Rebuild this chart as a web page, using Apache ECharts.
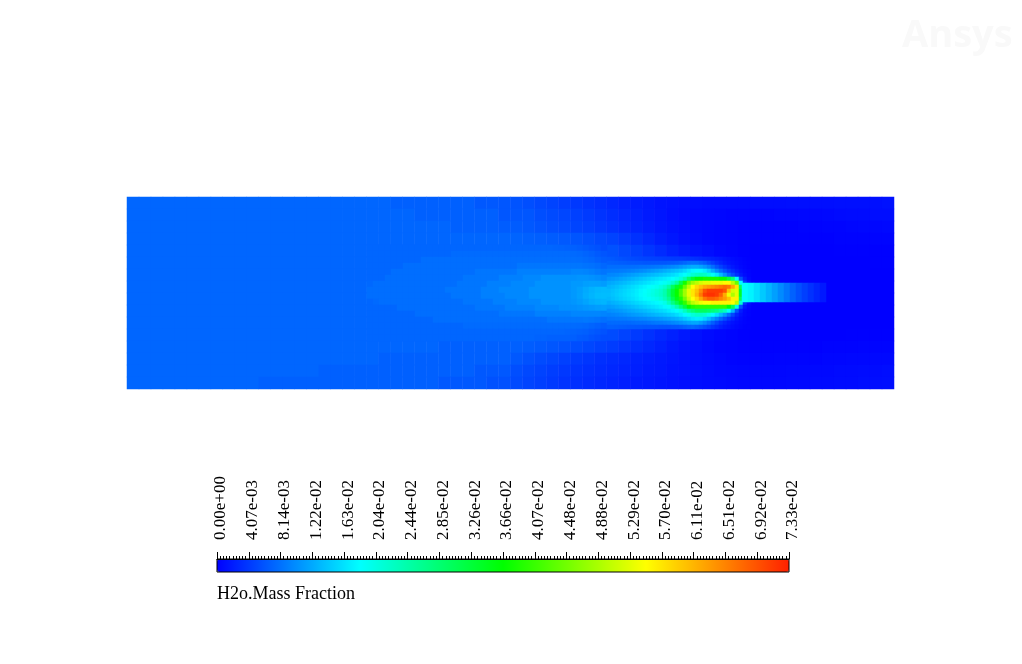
<!DOCTYPE html>
<html>
<head>
<meta charset="utf-8">
<title>H2o.Mass Fraction</title>
<script src="https://cdn.jsdelivr.net/npm/echarts@6/dist/echarts.min.js"></script>
<style>
  html, body { margin: 0; padding: 0; background: #fff; }
  #chart { width: 1022px; height: 664px; }
</style>
</head>
<body>
<div id="chart"></div>
<script>
// all field values are mass fraction x 1e-3

// colour bar
var tickLabels = ['0.00e+00','4.07e-03','8.14e-03','1.22e-02','1.63e-02','2.04e-02','2.44e-02','2.85e-02','3.26e-02','3.66e-02',
                  '4.07e-02','4.48e-02','4.88e-02','5.29e-02','5.70e-02','6.11e-02','6.51e-02','6.92e-02','7.33e-02'];
var fieldMax = 73.3;

// whole domain, 64 x 16 cells
var baseRows = [
[7.3,7.3,7.3,7.3,7.3,7.3,7.3,7.3,7.3,7.3,7.3,7.3,7.3,7.3,7.3,7.3,7.3,7.3,7.3,7.3,7.3,7.3,6.9,6.9,6.9,6.9,6.9,6.9,6.9,6.3,6.3,6.2,6.0,5.6,5.2,4.8,4.4,4.0,3.6,3.2,2.8,2.4,2.0,1.7,1.4,1.2,1.0,0.9,0.8,0.8,0.8,0.8,0.9,0.9,0.9,1.0,1.0,1.0,1.0,1.1,1.1,1.1,1.1,1.2],
[7.3,7.3,7.3,7.3,7.3,7.3,7.3,7.3,7.3,7.3,7.3,7.3,7.3,7.3,7.3,7.3,7.3,7.3,7.3,7.3,7.3,7.3,7.3,7.3,6.9,6.9,6.9,6.9,6.9,6.9,6.9,6.2,6.2,6.2,5.6,5.3,5.0,4.6,4.2,3.7,3.2,2.8,2.4,1.9,1.5,1.1,0.8,0.6,0.5,0.4,0.3,0.3,0.3,0.3,0.4,0.4,0.5,0.5,0.6,0.7,0.8,0.8,0.9,0.9],
[7.3,7.3,7.3,7.3,7.3,7.3,7.3,7.3,7.3,7.3,7.3,7.3,7.3,7.3,7.3,7.3,7.3,7.3,7.3,7.3,7.3,7.3,7.3,7.3,7.3,7.3,7.3,6.9,6.9,6.9,6.9,6.7,6.6,6.3,6.0,5.6,5.3,4.9,4.5,4.0,3.6,3.1,2.6,2.1,1.6,1.2,0.9,0.6,0.4,0.3,0.2,0.1,0.1,0.1,0.1,0.1,0.2,0.2,0.3,0.3,0.4,0.5,0.5,0.6],
[7.3,7.3,7.3,7.3,7.3,7.3,7.3,7.3,7.3,7.3,7.3,7.3,7.3,7.3,7.3,7.3,7.3,7.3,7.3,7.3,7.3,7.3,7.3,7.3,7.3,7.3,7.3,7.3,7.3,7.3,7.3,7.3,7.2,7.0,6.8,6.6,6.4,6.1,5.7,5.2,4.8,4.2,3.5,2.8,2.1,1.6,1.1,0.7,0.4,0.3,0.2,0.1,0.1,0.1,0.1,0.1,0.1,0.1,0.1,0.2,0.2,0.2,0.3,0.3],
[7.3,7.3,7.3,7.3,7.3,7.3,7.3,7.3,7.3,7.3,7.3,7.3,7.3,7.3,7.3,7.3,7.3,7.3,7.3,7.3,7.3,7.3,7.3,7.3,7.3,7.3,7.3,7.3,7.5,7.6,7.7,7.7,7.7,7.6,7.4,7.0,6.6,6.2,5.9,5.8,5.8,5.2,4.5,3.8,3.1,2.4,1.8,1.3,0.9,0.5,0.3,0.1,0.0,0.0,0.0,0.0,0.0,0.0,0.0,0.1,0.1,0.1,0.1,0.1],
[7.3,7.3,7.3,7.3,7.3,7.3,7.3,7.3,7.3,7.3,7.3,7.3,7.3,7.3,7.3,7.3,7.3,7.3,7.3,7.3,7.3,7.3,7.3,7.6,7.8,7.9,8.0,8.0,8.2,8.4,8.6,8.7,8.6,8.4,8.2,7.8,7.4,7.0,6.7,6.4,6.0,6.0,5.8,5.8,5.6,5.8,6.0,4.0,2.0,1.0,0.3,0.1,0.0,0.0,0.0,0.0,0.0,0.0,0.0,0.0,0.0,0.0,0.1,0.1],
[7.3,7.3,7.3,7.3,7.3,7.3,7.3,7.3,7.3,7.3,7.3,7.3,7.3,7.3,7.3,7.3,7.3,7.3,7.3,7.3,7.3,7.5,7.8,8.0,8.1,8.2,8.3,8.6,8.8,8.9,9.0,9.1,9.1,9.1,9.2,9.3,9.3,9.2,9.1,9.0,9.0,10.0,11.0,13.0,14.0,18.0,19.0,15.0,8.0,2.0,0.5,0.2,0.0,0.0,0.0,0.0,0.0,0.0,0.0,0.0,0.0,0.0,0.0,0.0],
[7.3,7.3,7.3,7.3,7.3,7.3,7.3,7.3,7.3,7.3,7.3,7.3,7.3,7.3,7.3,7.3,7.3,7.3,7.3,7.3,7.8,7.9,8.0,8.2,8.4,8.6,8.8,8.9,9.0,9.0,9.1,9.1,9.3,9.6,9.9,10.2,10.5,10.9,11.2,11.6,12.0,14.0,15.0,18.0,30.0,50.0,62.0,62.0,50.0,20.0,3.0,1.0,0.0,0.0,0.0,0.0,0.0,0.0,0.0,0.0,0.0,0.0,0.0,0.0],
[7.3,7.3,7.3,7.3,7.3,7.3,7.3,7.3,7.3,7.3,7.3,7.3,7.3,7.3,7.3,7.3,7.3,7.3,7.3,7.3,7.8,7.9,8.0,8.2,8.4,8.6,8.8,8.9,9.0,9.0,9.1,9.1,9.3,9.6,9.9,10.2,10.5,10.9,11.2,11.6,12.0,14.0,15.0,18.0,30.0,50.0,62.0,62.0,50.0,20.0,3.0,1.0,0.0,0.0,0.0,0.0,0.0,0.0,0.0,0.0,0.0,0.0,0.0,0.0],
[7.3,7.3,7.3,7.3,7.3,7.3,7.3,7.3,7.3,7.3,7.3,7.3,7.3,7.3,7.3,7.3,7.3,7.3,7.3,7.3,7.3,7.3,7.6,7.8,8.0,8.1,8.2,8.4,8.6,8.7,8.8,8.9,8.9,9.0,9.1,9.1,9.1,9.1,9.0,8.9,9.0,10.0,11.0,13.0,14.0,18.0,19.0,15.0,8.0,2.0,0.5,0.2,0.0,0.0,0.0,0.0,0.0,0.0,0.0,0.0,0.0,0.0,0.0,0.0],
[7.3,7.3,7.3,7.3,7.3,7.3,7.3,7.3,7.3,7.3,7.3,7.3,7.3,7.3,7.3,7.3,7.3,7.3,7.3,7.3,7.3,7.3,7.3,7.3,7.3,7.3,7.5,7.6,7.8,7.9,8.0,8.0,7.9,7.6,7.3,7.0,6.8,6.5,6.2,5.8,6.0,6.0,5.8,5.8,5.6,5.8,6.0,4.0,2.0,1.0,0.3,0.1,0.0,0.0,0.0,0.0,0.0,0.0,0.0,0.0,0.0,0.0,0.0,0.0],
[7.3,7.3,7.3,7.3,7.3,7.3,7.3,7.3,7.3,7.3,7.3,7.3,7.3,7.3,7.3,7.3,7.3,7.3,7.3,7.3,7.3,7.3,7.3,7.3,7.3,7.3,7.3,7.3,7.3,7.3,7.3,7.2,7.0,6.9,6.6,6.3,5.9,5.7,5.6,5.5,5.4,4.8,4.2,3.5,2.9,2.3,1.7,1.2,0.8,0.5,0.3,0.1,0.0,0.0,0.0,0.0,0.0,0.0,0.0,0.0,0.1,0.1,0.1,0.1],
[7.3,7.3,7.3,7.3,7.3,7.3,7.3,7.3,7.3,7.3,7.3,7.3,7.3,7.3,7.3,7.3,7.3,7.3,7.3,7.3,7.3,7.3,7.3,7.3,7.3,7.3,6.9,6.9,6.9,6.9,6.9,6.9,6.9,6.7,6.5,6.2,5.9,5.5,5.1,4.7,4.3,3.8,3.3,2.8,2.3,1.7,1.3,0.9,0.6,0.3,0.2,0.1,0.1,0.1,0.1,0.1,0.1,0.1,0.2,0.2,0.2,0.3,0.3,0.3],
[7.3,7.3,7.3,7.3,7.3,7.3,7.3,7.3,7.3,7.3,7.3,7.3,7.3,7.3,7.3,7.3,7.3,7.3,7.3,7.3,7.3,6.9,6.9,6.9,6.9,6.9,6.9,6.9,6.9,6.9,6.9,6.9,6.3,5.8,5.4,5.0,4.6,4.2,3.8,3.4,3.1,2.8,2.4,2.1,1.8,1.5,1.2,0.9,0.7,0.5,0.3,0.2,0.2,0.2,0.3,0.3,0.3,0.3,0.4,0.4,0.5,0.5,0.6,0.6],
[7.3,7.3,7.3,7.3,7.3,7.3,7.3,7.3,7.3,7.3,7.3,7.3,7.3,7.3,7.3,7.3,6.9,6.9,6.9,6.9,6.9,6.9,6.9,6.9,6.9,6.9,6.9,6.9,6.9,6.3,6.3,6.3,5.6,5.2,4.8,4.4,4.0,3.7,3.4,3.1,2.8,2.5,2.2,1.9,1.7,1.4,1.2,1.0,0.8,0.6,0.5,0.4,0.4,0.4,0.4,0.5,0.5,0.6,0.6,0.7,0.7,0.8,0.8,0.9],
[7.3,7.3,7.3,7.3,7.3,7.3,7.3,7.3,7.3,7.3,7.3,6.9,6.9,6.9,6.9,6.9,6.9,6.9,6.9,6.9,6.9,6.9,6.9,6.9,6.9,6.9,6.3,6.3,6.3,6.3,5.8,5.8,5.3,4.9,4.5,4.1,3.7,3.4,3.1,2.8,2.5,2.2,1.9,1.7,1.5,1.3,1.1,0.9,0.8,0.7,0.6,0.5,0.5,0.5,0.5,0.6,0.6,0.7,0.7,0.8,0.8,0.9,0.9,1.0]
];

// middle of the domain, 40 x 16 finer cells over x 367-607, y 245-341
var wakeRows = [
[7.3,7.3,7.3,7.3,7.3,7.3,7.3,7.3,7.3,7.3,7.3,7.3,7.3,7.3,7.3,7.3,7.3,7.3,7.3,7.3,7.3,7.3,7.3,7.3,7.3,7.3,7.3,7.3,7.3,7.3,7.3,7.2,7.1,7.0,6.9,6.7,6.4,6.1,5.8,5.4],
[7.3,7.3,7.3,7.3,7.3,7.3,7.3,7.3,7.3,7.3,7.3,7.3,7.3,7.3,7.7,7.7,7.7,7.7,7.7,7.7,7.7,7.7,7.7,7.7,7.7,7.7,7.7,7.7,7.7,7.7,7.7,7.7,7.7,7.7,7.6,7.5,7.2,6.9,6.5,6.1],
[7.3,7.3,7.3,7.3,7.3,7.3,7.3,7.3,7.3,7.9,7.9,7.9,7.9,7.9,7.9,7.9,7.9,7.9,7.9,7.9,7.9,7.9,7.9,7.9,7.9,7.9,7.9,7.9,7.9,7.9,7.9,7.9,7.9,7.9,7.9,7.8,7.6,7.4,7.0,6.6],
[7.3,7.3,7.3,7.3,7.3,7.3,7.9,7.9,7.9,7.9,7.9,7.9,7.9,7.9,7.9,7.9,7.9,7.9,7.9,7.9,7.9,7.9,7.9,7.9,7.9,8.5,8.5,8.5,8.5,8.5,8.5,8.5,8.5,8.5,8.5,8.5,8.3,8.1,7.8,7.4],
[7.3,7.3,7.3,7.3,7.9,7.9,7.9,7.9,7.9,7.9,7.9,7.9,7.9,7.9,7.9,7.9,7.9,7.9,8.5,8.5,8.5,8.5,8.5,8.5,8.5,9.2,9.2,9.2,9.2,9.2,9.2,9.2,9.2,9.2,9.6,9.6,9.5,9.2,8.8,8.4],
[7.3,7.3,7.3,7.9,7.9,7.9,7.9,7.9,7.9,7.9,7.9,7.9,7.9,7.9,7.9,7.9,8.5,8.5,8.5,8.5,8.5,8.5,9.2,9.2,9.2,9.2,9.8,9.8,9.8,10.4,10.4,10.4,10.4,10.4,10.4,10.6,10.6,10.4,10.1,9.8],
[7.5,7.9,7.9,7.9,7.9,7.9,7.9,7.9,7.9,7.9,7.9,7.9,7.9,7.9,7.9,8.5,8.5,8.5,8.5,8.5,9.2,9.2,9.2,9.2,9.8,9.8,9.8,9.8,10.5,10.5,10.5,10.5,10.5,10.5,11.0,11.0,11.4,11.6,11.5,11.2],
[7.9,7.9,7.9,7.9,7.9,7.9,7.9,7.9,7.9,7.9,7.9,7.9,7.9,8.5,8.5,8.5,8.5,8.5,8.5,9.2,9.2,9.2,9.8,9.8,9.8,9.8,9.8,10.5,10.5,10.5,10.5,10.5,10.5,10.5,11.0,11.5,12.2,12.8,13.2,13.4],
[7.9,7.9,7.9,7.9,7.9,7.9,7.9,7.9,7.9,7.9,7.9,7.9,7.9,7.9,8.5,8.5,8.5,8.5,8.5,9.2,9.2,9.2,9.2,9.8,9.8,9.8,9.8,10.5,10.5,10.5,10.5,10.5,10.5,10.5,11.0,11.6,12.4,13.0,13.5,13.6],
[7.3,7.6,7.9,7.9,7.9,7.9,7.9,7.9,7.9,7.9,7.9,7.9,7.9,7.9,7.9,7.9,8.5,8.5,8.5,8.5,8.5,9.2,9.2,9.2,9.2,9.8,9.8,9.8,9.8,10.5,10.5,10.5,10.5,10.5,10.8,11.2,11.8,12.4,12.8,13.0],
[7.3,7.3,7.3,7.3,7.3,7.9,7.9,7.9,7.9,7.9,7.9,7.9,7.9,7.9,7.9,7.9,7.9,7.9,8.5,8.5,8.5,8.5,8.5,9.2,9.2,9.2,9.2,9.2,9.8,9.8,9.8,9.8,10.3,10.3,10.3,10.5,10.8,11.0,11.3,11.4],
[7.3,7.3,7.3,7.3,7.3,7.3,7.3,7.3,7.9,7.9,7.9,7.9,7.9,7.9,7.9,7.9,7.9,7.9,7.9,7.9,7.9,7.9,8.5,8.5,8.5,8.5,8.5,8.5,9.2,9.2,9.2,9.2,9.2,9.2,9.6,9.6,9.6,9.6,9.6,9.5],
[7.3,7.3,7.3,7.3,7.3,7.3,7.3,7.3,7.3,7.3,7.3,7.9,7.9,7.9,7.9,7.9,7.9,7.9,7.9,7.9,7.9,7.9,7.9,7.9,7.9,7.9,7.9,7.9,7.9,7.9,8.5,8.5,8.5,8.5,8.5,8.5,8.6,8.5,8.3,8.0],
[7.3,7.3,7.3,7.3,7.3,7.3,7.3,7.3,7.3,7.3,7.3,7.3,7.3,7.3,7.3,7.3,7.7,7.7,7.7,7.7,7.7,7.7,7.7,7.7,7.7,7.7,7.7,7.7,7.7,7.7,7.7,7.7,7.7,7.7,7.7,7.6,7.5,7.2,6.9,6.6],
[7.3,7.3,7.3,7.3,7.3,7.3,7.3,7.3,7.3,7.3,7.3,7.3,7.3,7.3,7.3,7.3,7.3,7.3,7.3,7.3,7.3,7.3,7.3,7.3,7.3,7.3,7.3,7.3,7.3,7.3,7.3,7.3,7.3,7.2,7.1,7.0,6.8,6.5,6.2,5.9],
[7.3,7.3,7.3,7.3,7.3,7.3,7.3,7.3,7.3,7.3,7.3,7.3,7.3,7.3,7.3,7.3,7.3,7.3,7.3,7.3,7.3,7.3,7.3,7.3,7.3,7.3,7.3,7.3,7.1,7.1,6.9,6.9,6.9,6.9,6.8,6.5,6.3,6.0,5.7,5.4]
];

// plume, 36 x 18 finer cells over x 607-751, y 257-329
var plumeRows = [
[6.5,6.3,6.1,5.9,5.7,5.5,5.3,5.2,5.0,4.9,4.8,4.7,4.6,4.5,4.4,4.3,4.2,4.1,4.0,3.9,3.7,3.5,3.3,3.0,2.8,2.6,2.3,2.0,1.7,1.4,1.1,0.8,0.6,0.4,0.2,0.1],
[7,6.9,6.8,6.7,6.6,6.5,6.4,6.3,6.3,6.2,6.2,6.2,6.2,6.2,6.2,6.3,6.4,6.6,6.9,7.3,7.8,8,7.8,7.2,6.5,5.4,4.4,3.4,2.6,1.9,1.4,1.0,0.7,0.4,0.2,0.1],
[7.8,7.8,7.8,7.8,7.8,7.8,7.9,8,8.1,8.2,8.3,8.4,8.6,8.8,9.1,9.4,9.8,10.2,10.8,11.4,12,12.4,12.4,11.8,10.8,9.4,7.8,6,4.6,3.4,2.4,1.6,1,0.6,0.3,0.1],
[8.6,8.7,8.8,8.9,9,9.2,9.4,9.7,10,10.3,10.7,11.1,11.5,11.9,12.4,12.9,13.5,14,14.6,15.6,16.8,18,18.5,18.2,17,15,12.5,10,7.8,5.8,4.2,2.9,1.8,1,0.5,0.2],
[9.6,9.8,10,10.3,10.6,11,11.4,11.8,12.2,12.6,13,13.4,13.8,14.2,14.7,15.2,15.8,16.5,17.5,18.5,20,21.5,22.5,23,22.5,21,19,16.5,13.5,10.5,7.5,5.2,3.2,1.7,0.8,0.3],
[10.6,10.9,11.3,11.7,12.1,12.5,13,13.5,14,14.5,15,15.5,16,16.5,17,17.6,18.4,19.5,21,24,29,33,36,37,38,38,38,38,37,36,32,28,18,6,2,0.5],
[12,12.3,12.7,13.1,13.5,14,14.5,15,15.5,16,16.5,17,17.6,18.2,19,20,22,25,31,38,44,48,50,52,53,53,54,54,54,55,55,50,44,18,4,1],
[12.8,13.2,13.7,14.2,14.7,15.2,15.8,16.4,17,17.6,18.2,18.8,19.4,20.5,22,25,30,34,38,44,50,55,58,60,62,63,64,65,66,67,66,62,57,30,6,1],
[13.4,13.9,14.4,14.9,15.4,15.9,16.4,17,17.8,18.5,19.2,20,21,22,24,28,33,37,42,48,53,57,60,64,69,71,71,71,71,69,60,52,53,34,6,1],
[13.6,14.1,14.6,15.1,15.6,16.1,16.6,17.2,18,18.7,19.4,20.2,21.2,22.2,24,28,33,37,42,48,53,57,61,66,71,72,72,71,68,62,54,49,53,34,6,1],
[13.2,13.7,14.2,14.7,15.2,15.7,16.2,16.8,17.5,18.1,18.7,19.3,20,21,23,26,31,35,39,45,51,55,58,62,66,68,68,67,65,63,60,56,56,30,6,1],
[12.3,12.7,13.1,13.5,14,14.5,15,15.5,16,16.5,17,17.5,18,18.8,20,23,27,31,35,40,46,50,52,54,55,55,56,56,56,56,56,55,50,22,4,1],
[11.2,11.5,11.9,12.3,12.7,13.1,13.6,14.1,14.6,15.1,15.6,16.1,16.6,17.2,18,19,21,24,28,32,37,39,40,40,40,40,40,40,40,40,36,30,20,6,1.5,0.4],
[10.2,10.5,10.8,11.1,11.5,11.9,12.3,12.7,13.1,13.5,14,14.5,15,15.5,16,16.8,17.6,18.6,20,23,26,28,30,30,30,29,28,27,25,23,19,13,6,2,0.6,0.2],
[9.3,9.5,9.7,10,10.3,10.6,11,11.3,11.6,12,12.4,12.8,13.2,13.6,14,14.5,15,15.8,16.8,18,19.5,21,22,22,21.5,20,18,16,13.5,11,8,5,2.5,1.2,0.5,0.2],
[8.4,8.5,8.6,8.7,8.8,9,9.2,9.4,9.6,9.8,10.1,10.4,10.7,11,11.4,11.8,12.3,12.8,13.5,14.5,15.5,16.5,17,16.8,15.5,13.8,11.5,9.5,7.5,5.5,3.8,2.5,1.4,0.7,0.3,0.1],
[7.6,7.6,7.6,7.6,7.6,7.6,7.7,7.8,7.9,8,8.2,8.4,8.6,8.8,9,9.3,9.6,10,10.5,11,11.6,12,12,11.2,10,8.4,6.7,5,3.6,2.6,1.8,1.2,0.8,0.4,0.2,0.1],
[6.9,6.9,6.8,6.7,6.6,6.5,6.4,6.3,6.3,6.2,6.2,6.1,6.1,6,6,6,6.1,6.2,6.4,6.8,7.2,7.4,7,6.4,5.6,4.8,3.8,3,2.2,1.6,1.2,0.8,0.5,0.3,0.1,0.1]
];

// inlet tube, left to right
var tubeRows = [
[18.5,17.5,16,14.5,13,11.5,10,8.5,7,5.7,4.5,3.5,2.6,1.7]
];

function indexList(n) {
    var list = [];
    for (var i = 0; i < n; i++) list.push(i);
    return list;
}

function cells(rows) {
    var out = [];
    for (var r = 0; r < rows.length; r++) {
        for (var c = 0; c < rows[r].length; c++) {
            out.push([c, r, rows[r][c]]);
        }
    }
    return out;
}

var grids = [], xAxes = [], yAxes = [], seriesList = [];

function fieldGrid(rows, left, top, width, height) {
    var idx = grids.length;
    grids.push({ left: left, top: top, width: width, height: height });
    xAxes.push({ type: 'category', gridIndex: idx, data: indexList(rows[0].length), show: false });
    yAxes.push({ type: 'category', gridIndex: idx, data: indexList(rows.length), inverse: true, show: false });
    seriesList.push({
        type: 'heatmap',
        xAxisIndex: idx,
        yAxisIndex: idx,
        data: cells(rows),
        z: 2 + idx,
        silent: true,
        progressive: 0,
        animation: false
    });
}

fieldGrid(baseRows, 127, 197, 767, 192);
fieldGrid(wakeRows, 367, 245, 240, 96);
fieldGrid(plumeRows, 607, 257, 144, 72);
fieldGrid(tubeRows, 742, 283, 84, 19);

// colour bar axis, counted in tick steps
grids.push({ left: 217, top: 559, width: 572, height: 13, show: true, borderColor: '#000', borderWidth: 1, backgroundColor: 'transparent', z: 6 });
xAxes.push({
    type: 'value',
    gridIndex: 4,
    position: 'top',
    min: 0,
    max: tickLabels.length - 1,
    interval: 1,
    z: 7,
    axisLine: { show: true, onZero: false, lineStyle: { color: '#000', width: 1 } },
    axisTick: { show: true, length: 7, lineStyle: { color: '#000', width: 1 } },
    minorTick: { show: true, splitNumber: 10, length: 3, lineStyle: { color: '#000', width: 1 } },
    splitLine: { show: false },
    axisLabel: {
        rotate: -90,
        margin: 19,
        verticalAlign: 'top',
        lineHeight: 8,
        color: '#000',
        fontFamily: 'Liberation Serif',
        fontSize: 17,
        showMinLabel: true,
        showMaxLabel: true,
        hideOverlap: false,
        formatter: function (value, index) { return tickLabels[value]; }
    }
});
yAxes.push({ type: 'value', gridIndex: 4, show: false, min: 0, max: 1 });

var chart = echarts.init(document.getElementById('chart'), null, { renderer: 'canvas' });
chart.setOption({
    animation: false,
    backgroundColor: '#fff',
    title: [
        { text: 'H2o.Mass Fraction', left: 217, top: 585, padding: 0, textStyle: { fontFamily: 'Liberation Serif', fontSize: 18, fontWeight: 'normal', color: '#000' } },
        { text: 'Ansys', left: 902, top: 17, padding: 0, textStyle: { fontFamily: 'Open Sans', fontSize: 38, fontWeight: 'bold', color: '#f9f9f9' } }
    ],
    grid: grids,
    xAxis: xAxes,
    yAxis: yAxes,
    visualMap: {
        type: 'continuous',
        min: 0,
        max: fieldMax,
        seriesIndex: [0, 1, 2, 3],
        orient: 'horizontal',
        left: 217,
        top: 559,
        padding: 0,
        itemWidth: 13,
        itemHeight: 572,
        calculable: false,
        hoverLink: false,
        z: 4,
        inRange: { color: ['#0000ff', '#00ffff', '#00ff00', '#ffff00', '#ff2000'] }
    },
    series: seriesList
});

window.onresize = function () {
    chart.resize();
};
</script>
</body>
</html>
